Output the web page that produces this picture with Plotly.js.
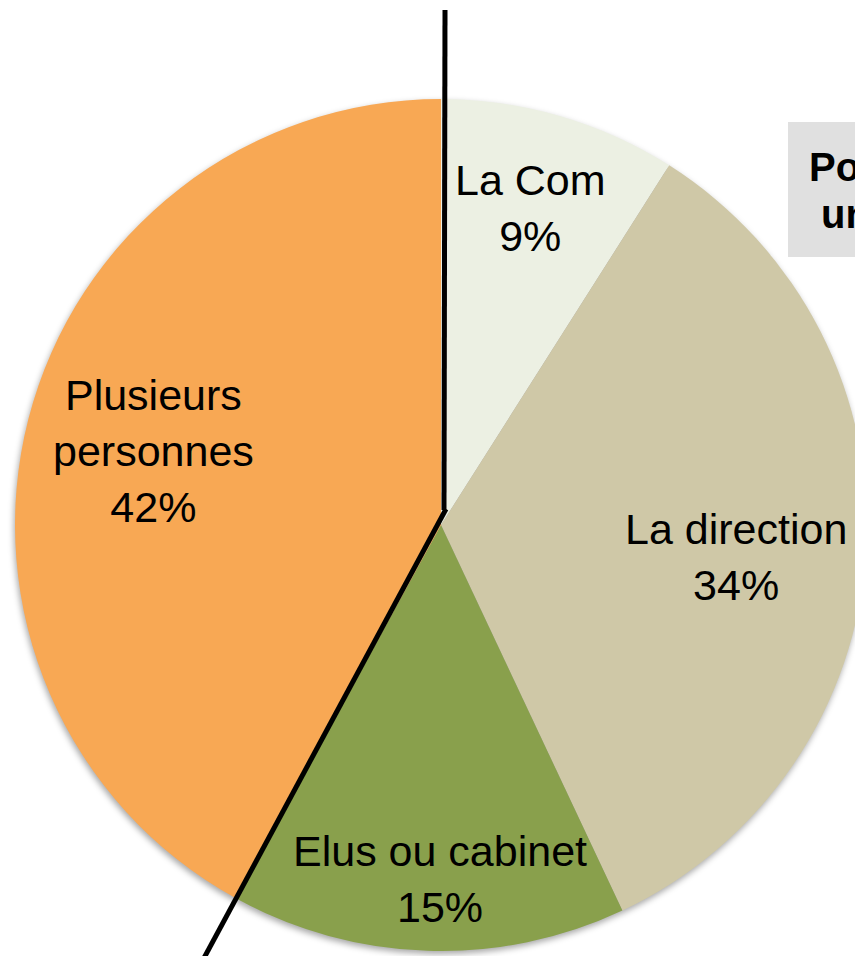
<!DOCTYPE html>
<html>
<head>
<meta charset="utf-8">
<script src="https://cdn.plot.ly/plotly-3.0.1.min.js"></script>
<style>
  html, body { margin: 0; padding: 0; background: #fff; overflow: hidden; width: 855px; height: 956px; }
  #chart { width: 882px; height: 956px; }
  .pielayer { filter: drop-shadow(-1px 3px 3px rgba(0,0,0,0.35)); }
</style>
</head>
<body>
<div id="chart"></div>
<script>
// ---- data ----
const categories = ["La Com", "La direction", "Elus ou cabinet", "Plusieurs personnes"];
const labelText  = ["La Com", "La direction", "Elus ou cabinet", "Plusieurs<br>personnes"];
const values     = [9, 34, 15, 42];
const colors     = ["#ECF0E3", "#CFC8A7", "#89A04C", "#F8A854"];
const boxLines   = ["Pour", "une"];

// ---- label placement style (radius fraction, angle nudge in degrees) ----
const labelRadius = [0.773, 0.697, 0.83, 0.696];
const labelNudge  = [-0.5, 2.6, -1.6, 0.1];

// ---- geometry (pixels) ----
const W = 882, H = 956;
const CX = 441, CY = 525, R = 426;
const px = x => x / W;
const py = y => 1 - y / H;

const total = values.reduce((a, b) => a + b, 0);
const labelAnnotations = [];
let cum = 0;
values.forEach((v, i) => {
  const mid = (cum + v / 2) / total * 360 + labelNudge[i];
  cum += v;
  const rad = mid * Math.PI / 180;
  const r = labelRadius[i] * R;
  const pct = Math.round(v / total * 100) + "%";
  labelAnnotations.push({
    xref: "paper", yref: "paper",
    x: px(CX + r * Math.sin(rad)), y: py(CY - r * Math.cos(rad)),
    xanchor: "center", yanchor: "middle", align: "center",
    text: labelText[i] + "<br>" + pct, showarrow: false,
    font: { family: "Liberation Sans, Arial, sans-serif", size: 43, color: "#000" }
  });
});

const trace = {
  type: "pie",
  labels: categories,
  values: values,
  sort: false,
  direction: "clockwise",
  rotation: 0,
  marker: { colors: colors, line: { width: 0 } },
  textinfo: "none",
  hoverinfo: "label+percent",
  domain: { x: [0, 1], y: [py(CY + R), py(CY - R)] },
  showlegend: false
};

const layout = {
  width: W, height: H,
  margin: { l: 0, r: 0, t: 0, b: 0 },
  paper_bgcolor: "#fff",
  showlegend: false,
  shapes: [
    { type: "rect", xref: "paper", yref: "paper",
      x0: px(788), x1: px(900), y0: py(122), y1: py(257),
      fillcolor: "#E0E0E0", line: { width: 0 }, layer: "above" },
    { type: "line", xref: "paper", yref: "paper",
      x0: px(445), y0: py(10), x1: px(444), y1: py(510),
      line: { color: "#000", width: 5 }, layer: "above" },
    { type: "line", xref: "paper", yref: "paper",
      x0: px(446), y0: py(509), x1: px(204), y1: py(958),
      line: { color: "#000", width: 5 }, layer: "above" }
  ],
  annotations: labelAnnotations.concat([
    { xref: "paper", yref: "paper", x: px(807), y: py(167), xanchor: "left", yanchor: "middle",
      text: "<b>" + boxLines[0] + "</b>", showarrow: false,
      font: { family: "Liberation Sans, Arial, sans-serif", size: 40, color: "#000" } },
    { xref: "paper", yref: "paper", x: px(819), y: py(214), xanchor: "left", yanchor: "middle",
      text: "<b>" + boxLines[1] + "</b>", showarrow: false,
      font: { family: "Liberation Sans, Arial, sans-serif", size: 40, color: "#000" } }
  ])
};

Plotly.newPlot("chart", [trace], layout, { displayModeBar: false, staticPlot: true });
</script>
</body>
</html>
